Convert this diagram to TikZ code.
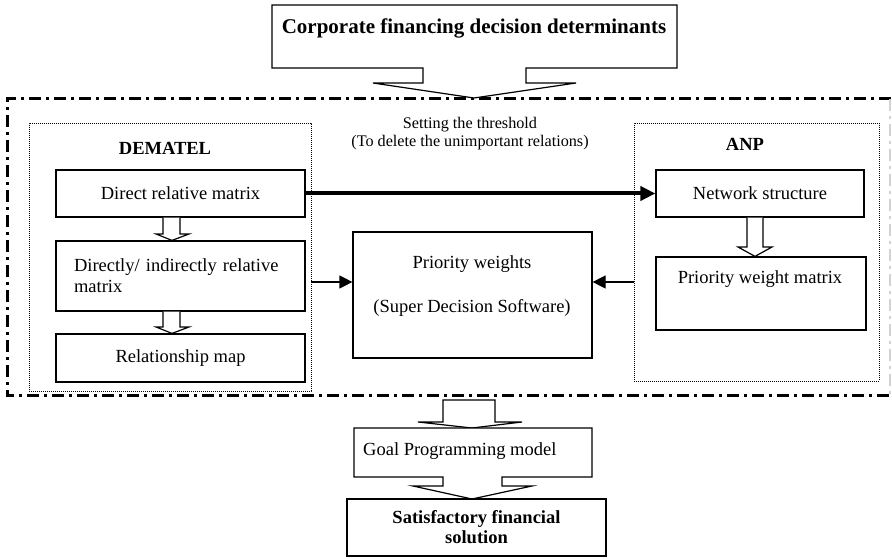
\documentclass[tikz,border=0pt]{standalone}
\usepackage{fontspec}
\setmainfont{Liberation Serif}
\usetikzlibrary{arrows.meta,calc}
\begin{document}
\begin{tikzpicture}[x=1pt,y=-1pt,
  box/.style={draw, line width=1.2pt, inner sep=0pt, font=\fontsize{18.5}{21}\selectfont},
  txt/.style={inner sep=0pt, font=\fontsize{18.5}{21}\selectfont},
  smalltxt/.style={inner sep=0pt, align=center, font=\fontsize{16.2}{18}\selectfont},
  btxt/.style={inner sep=0pt, align=center, font=\fontsize{18.5}{20}\selectfont\bfseries},
  hollow/.style={draw, line width=1.2pt, fill=white, line join=miter},
  dotbox/.style={draw, line width=0.7pt, dash pattern=on 0.8pt off 1.2pt, inner sep=0pt},
  dashdot/.style={line width=3pt, dash pattern=on 12pt off 5pt on 3pt off 5pt},
  thinarrow/.style={line width=1.2pt, -{Triangle[length=13pt,width=13pt]}},
  thickarrow/.style={line width=4pt, -{Triangle[length=15pt,width=14pt]}}]

\useasboundingbox (0,0) rectangle (892,559);

% outer dash-dot frame
\draw[dashdot] (891,99) -- (7,99) -- (7,395) -- (891,395);
\draw[dashdot, line width=2pt, gray!35] (890,99) -- (890,395);

% dotted group boxes
\node[dotbox, minimum width=282pt, minimum height=268pt] (dem) at (170,257) {};
\node[dotbox, minimum width=245pt, minimum height=258pt] (anp) at (756.5,252) {};
\node[btxt] (demlabel) at (165,148) {DEMATEL};
\node[btxt] (anplabel) at (745,144) {ANP};

% title callout
\draw[hollow] (272,5) -- (677,5) -- (677,68) -- (526,68) -- (526,83) -- (576,83)
  -- (474,98) -- (373,83) -- (423,83) -- (423,68) -- (272,68) -- cycle;
\node[btxt, font=\fontsize{21}{24}\selectfont\bfseries] (title) at (474,28) {Corporate financing decision determinants};

% threshold text
\node[smalltxt] (thr) at (470,134) {Setting the threshold\\(To delete the unimportant relations)};

% DEMATEL boxes
\node[box, minimum width=249pt, minimum height=47pt] (drm) at (180.5,193.5) {Direct relative matrix};
\node[box, minimum width=249pt, minimum height=70pt, text width=213pt, align=left] (dir) at (180.5,276)
  {Directly/ indirectly relative\\matrix};
\node[box, minimum width=249pt, minimum height=48pt] (rmap) at (180.5,358) {Relationship map};

% ANP boxes
\node[box, minimum width=208pt, minimum height=47pt] (ns) at (760,193.5) {Network structure};
\node[box, minimum width=210pt, minimum height=73pt] (pwm) at (761,293.5) {};
\node[txt] (pwmtext) at (760,279) {Priority weight matrix};

% priority weights
\node[box, minimum width=239pt, minimum height=126pt] (pw) at (472.5,295) {};
\node[txt, align=center] (pwtext) at (472,286) {Priority weights\\[23pt](Super Decision Software)};

% hollow arrows inside groups
\draw[hollow] (163,0 |- drm.south) -- (163,234) -- (156,234) -- (172,0 |- dir.north)
  -- (189,234) -- (180,234) -- (180,0 |- drm.south);
\draw[hollow] (163,0 |- dir.south) -- (163,327) -- (156,327) -- (172,0 |- rmap.north)
  -- (189,327) -- (180,327) -- (180,0 |- dir.south);
\draw[hollow] (747,0 |- ns.south) -- (747,247) -- (738,247) -- (755,0 |- pwm.north)
  -- (772,247) -- (763,247) -- (763,0 |- ns.south);

% connectors
\coordinate (ya) at (0,282);
\draw[thickarrow] (drm.east) -- (ns.west);
\draw[thinarrow] (dem.east |- ya) -- (pw.west |- ya);
\draw[thinarrow] (anp.west |- ya) -- (pw.east |- ya);

% bottom part
\draw[hollow] (443,400) -- (495,400) -- (495,422) -- (522,422) -- (472,428)
  -- (418,422) -- (443,422) -- cycle;
\draw[hollow] (354,428) -- (592,428) -- (592,477) -- (502,477) -- (502,486) -- (532,486)
  -- (472,499) -- (413,486) -- (443,486) -- (443,477) -- (354,477) -- cycle;
\node[txt, anchor=west] (goal) at (363,451) {Goal Programming model};
\node[box, minimum width=259pt, minimum height=57pt, align=center,
  font=\fontsize{18.5}{20}\selectfont\bfseries] (sat) at (476.5,527.5)
  {Satisfactory financial\\solution};
\end{tikzpicture}
\end{document}
